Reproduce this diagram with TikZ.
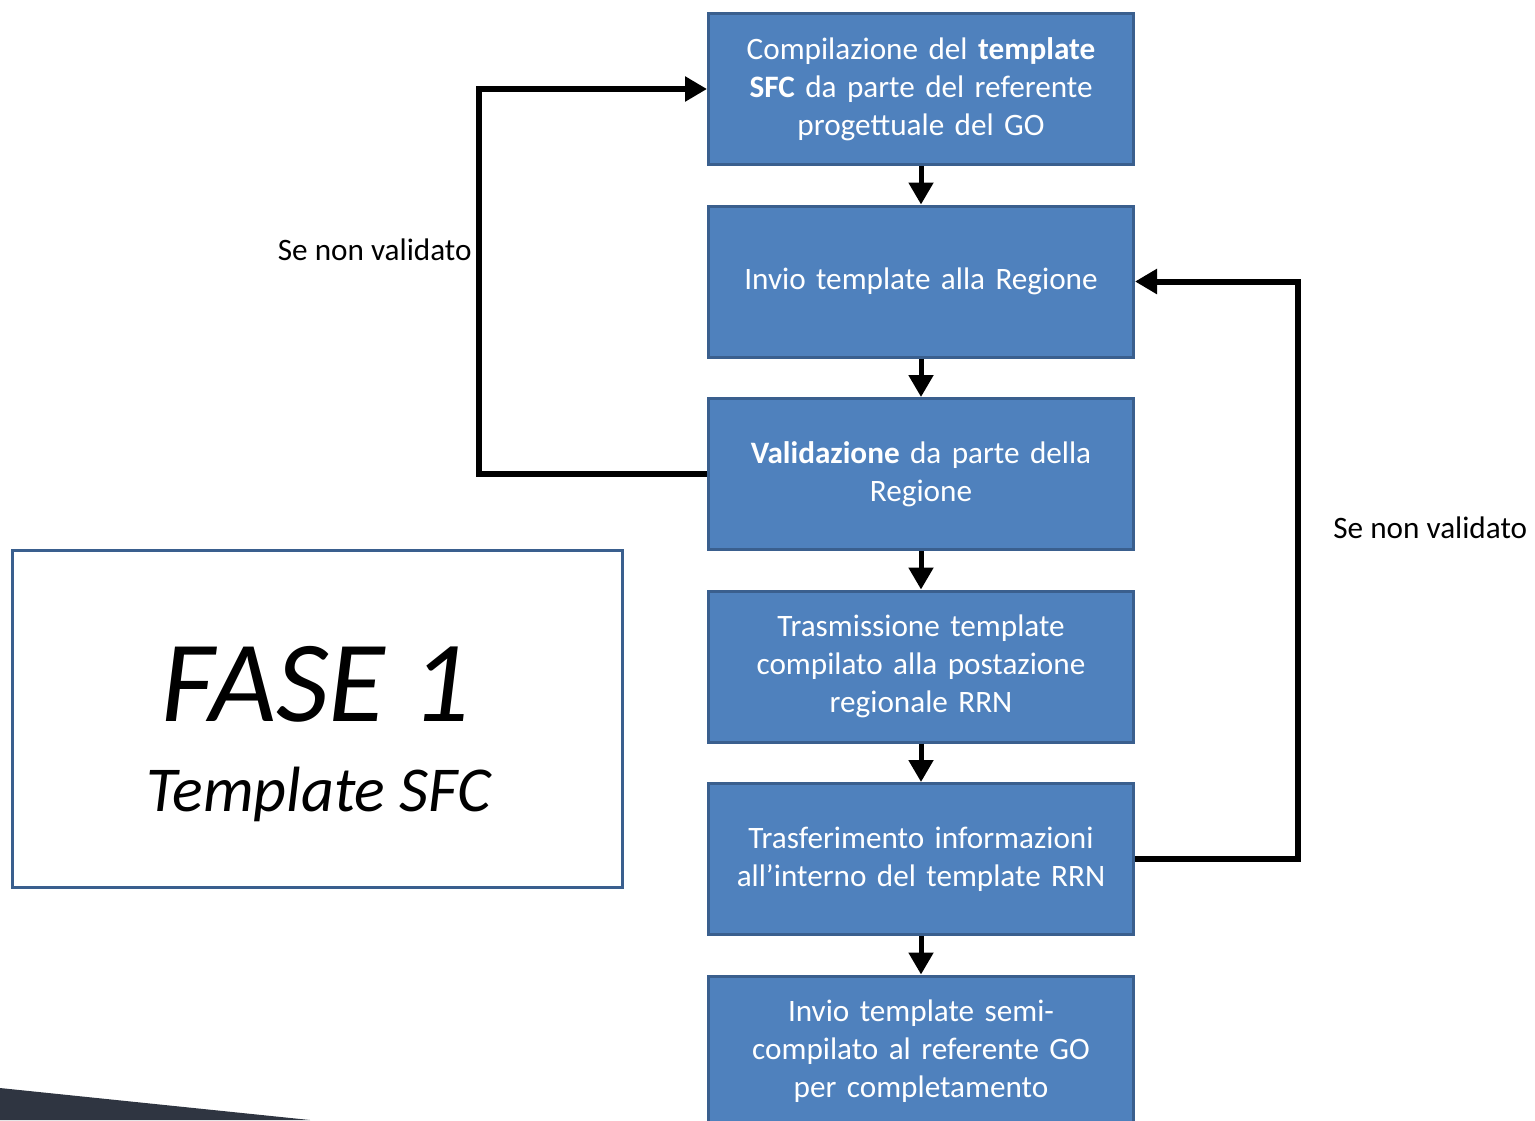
\documentclass[tikz,border=0pt]{standalone}
\usepackage{fontspec}
\setmainfont{Carlito}
\usetikzlibrary{positioning, arrows.meta}
\definecolor{boxblue}{HTML}{4F81BD}
\definecolor{boxedge}{HTML}{3A5F8E}
\definecolor{wedge}{HTML}{2F3541}
\tikzset{
x=0.5pt, y=-0.5pt, % one unit is one pixel of the slide
>={Triangle[width=12pt,length=11pt]}, % filled heads as in the slide
node distance=19.25pt, % gap between two steps
stepbox/.style={draw=boxedge, line width=1.5pt, fill=boxblue, text=white,
  minimum width=212.5pt, minimum height=75.5pt, text width=205pt, align=center,
  inner sep=0pt, font=\fontsize{15.6}{19}\selectfont},
flow/.style={->, line width=2.5pt}, % arrow between two steps
backloop/.style={->, line width=3pt}, % return path when not validated
note/.style={font=\fontsize{15.6}{19}\selectfont, inner sep=0pt},
}

\begin{document}
\begin{tikzpicture}
\useasboundingbox (0,0) rectangle (1535,1120);

% dark band in the corner
\fill[wedge] (0,1088) -- (310,1120) -- (0,1120) -- cycle;

% the steps
\node[stepbox] (compila) at (921,89) {Compilazione del \textbf{template}\\ \textbf{SFC} da parte del referente\\ progettuale del GO};
\node[stepbox, below=of compila] (invio) {Invio template alla Regione};
\node[stepbox, below=of invio] (valida) {\textbf{Validazione} da parte della\\ Regione};
\node[stepbox, below=of valida] (trasmette) {Trasmissione template\\ compilato alla postazione\\ regionale RRN};
\node[stepbox, below=of trasmette] (trasferisce) {Trasferimento informazioni\\ all’interno del template RRN};
\node[stepbox, below=of trasferisce] (completa) {Invio template semi-\\ compilato al referente GO\\ per completamento};

\draw[flow] (compila) -- (invio);
\draw[flow] (invio) -- (valida);
\draw[flow] (valida) -- (trasmette);
\draw[flow] (trasmette) -- (trasferisce);
\draw[flow] (trasferisce) -- (completa);

% return paths
\coordinate (sinistra) at (479,0);
\coordinate (destra) at (1298,0);
\draw[backloop] (valida.west) -- (valida.west -| sinistra) |- (compila.west);
\draw[backloop] (trasferisce.east) -- (trasferisce.east -| destra) |- (invio.east);
\node[note, anchor=east] (nota1) at (472,250) {Se non validato};
\node[note, anchor=west] (nota2) at (1333,528) {Se non validato};

% phase title
\node[draw=boxedge, line width=1.5pt, fill=white, minimum width=305pt, minimum height=168.5pt] (fase) at (317,719) {};
\node[font=\itshape\fontsize{58}{58}\selectfont, inner sep=0pt] (fasetitolo) at (316,684) {FASE 1};
\node[font=\itshape\fontsize{32}{32}\selectfont, inner sep=0pt] (fasesotto) at (319,794) {Template SFC};
\end{tikzpicture}
\end{document}
